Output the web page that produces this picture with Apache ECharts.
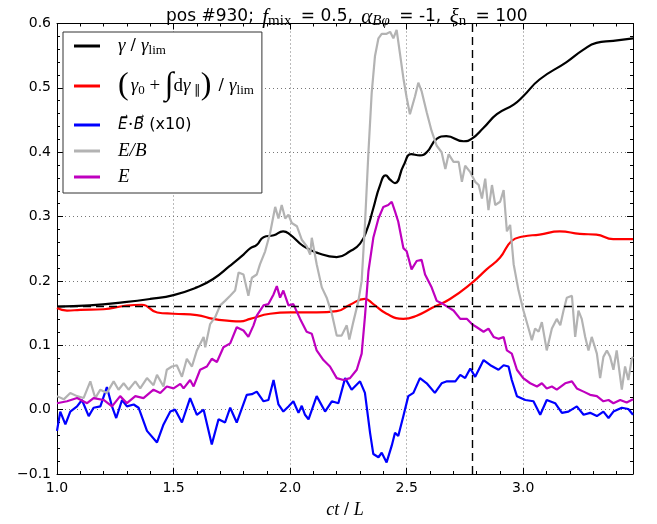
<!DOCTYPE html>
<html><head><meta charset="utf-8">
<script src="https://cdn.jsdelivr.net/npm/echarts@6.0.0/dist/echarts.min.js"></script>
<style>html,body{margin:0;padding:0;background:#fff}#c{width:657px;height:524px}</style>
</head><body><div id="c"></div>
<script>
// ---- data ----
const xMin = 1.0, xMax = 3.471, yMin = -0.1, yMax = 0.6;
const hLineY = 0.159;   // horizontal dashed reference line
const vLineX = 2.78;    // vertical dashed reference line

const gammaPts = [[1.0,0.160],[1.14,0.162],[1.29,0.167],[1.40,0.172],[1.50,0.178],[1.60,0.190],[1.67,0.203],[1.74,0.223],[1.80,0.241],[1.83,0.251],[1.857,0.256],[1.886,0.268],[1.93,0.271],[1.97,0.277],[2.0,0.272],[2.057,0.254],[2.114,0.244],[2.2,0.237],[2.257,0.246],[2.3,0.258],[2.33,0.280],[2.357,0.313],[2.386,0.349],[2.41,0.364],[2.43,0.357],[2.45,0.352],[2.486,0.379],[2.52,0.397],[2.557,0.395],[2.586,0.400],[2.63,0.421],[2.67,0.425],[2.744,0.417],[2.78,0.421],[2.83,0.438],[2.887,0.459],[2.959,0.474],[3.0,0.487],[3.07,0.513],[3.186,0.540],[3.257,0.559],[3.314,0.570],[3.386,0.573],[3.471,0.577]];

const gammaParPts = [[1.0,0.158],[1.043,0.154],[1.1,0.155],[1.2,0.156],[1.286,0.161],[1.364,0.163],[1.43,0.151],[1.5,0.149],[1.6,0.147],[1.67,0.141],[1.74,0.138],[1.786,0.137],[1.829,0.141],[1.914,0.149],[2.0,0.151],[2.114,0.151],[2.2,0.153],[2.257,0.163],[2.32,0.172],[2.357,0.164],[2.414,0.149],[2.486,0.141],[2.543,0.146],[2.614,0.159],[2.686,0.172],[2.78,0.197],[2.843,0.218],[2.9,0.236],[2.95,0.262],[3.0,0.269],[3.07,0.272],[3.157,0.277],[3.243,0.273],[3.314,0.272],[3.386,0.265],[3.471,0.265]];

const ebPts = [[1.0,-0.033],[1.014,-0.003],[1.036,-0.023],[1.057,-0.003],[1.086,0.005],[1.107,0.015],[1.136,-0.01],[1.157,0.003],[1.186,0.005],[1.214,0.035],[1.236,0.005],[1.254,-0.013],[1.279,0.015],[1.3,0.005],[1.329,0.008],[1.35,0.003],[1.386,-0.033],[1.429,-0.051],[1.457,-0.023],[1.486,-0.003],[1.507,0.0],[1.536,-0.02],[1.571,0.018],[1.6,-0.008],[1.629,0.0],[1.664,-0.054],[1.693,-0.015],[1.721,-0.02],[1.743,0.003],[1.771,-0.02],[1.814,0.023],[1.836,0.024],[1.857,0.028],[1.886,0.013],[1.907,0.015],[1.929,0.046],[1.95,0.008],[1.971,-0.003],[1.993,0.005],[2.014,0.013],[2.036,-0.005],[2.05,0.006],[2.064,-0.008],[2.079,-0.015],[2.114,0.021],[2.15,-0.003],[2.179,0.013],[2.207,0.01],[2.236,0.049],[2.264,0.031],[2.3,0.044],[2.321,0.026],[2.343,-0.036],[2.357,-0.069],[2.379,-0.074],[2.393,-0.067],[2.414,-0.082],[2.436,-0.056],[2.45,-0.036],[2.464,-0.041],[2.486,-0.01],[2.507,0.021],[2.529,0.026],[2.557,0.049],[2.586,0.041],[2.621,0.026],[2.65,0.041],[2.673,0.044],[2.709,0.044],[2.73,0.054],[2.751,0.049],[2.773,0.064],[2.794,0.051],[2.83,0.077],[2.859,0.069],[2.894,0.062],[2.916,0.069],[2.937,0.067],[2.951,0.046],[2.973,0.021],[3.009,0.015],[3.044,0.013],[3.073,-0.008],[3.101,0.015],[3.137,0.01],[3.166,-0.005],[3.194,-0.003],[3.23,0.005],[3.259,-0.008],[3.287,-0.005],[3.316,-0.01],[3.344,-0.003],[3.366,-0.013],[3.387,-0.003],[3.423,0.003],[3.451,0.001],[3.471,-0.008]];

const eOverBPts = [[1.0,0.021],[1.029,0.016],[1.057,0.026],[1.086,0.021],[1.114,0.018],[1.143,0.044],[1.164,0.018],[1.186,0.031],[1.214,0.026],[1.243,0.044],[1.264,0.031],[1.286,0.041],[1.307,0.031],[1.336,0.044],[1.357,0.033],[1.386,0.049],[1.414,0.038],[1.429,0.054],[1.457,0.036],[1.471,0.062],[1.493,0.067],[1.514,0.069],[1.536,0.051],[1.557,0.079],[1.579,0.067],[1.6,0.092],[1.629,0.113],[1.636,0.097],[1.657,0.133],[1.679,0.144],[1.7,0.162],[1.721,0.169],[1.743,0.177],[1.764,0.185],[1.779,0.213],[1.8,0.21],[1.821,0.177],[1.836,0.205],[1.857,0.21],[1.871,0.226],[1.893,0.246],[1.914,0.274],[1.936,0.315],[1.95,0.297],[1.964,0.318],[1.979,0.297],[1.993,0.303],[2.007,0.29],[2.029,0.285],[2.05,0.264],[2.071,0.254],[2.086,0.241],[2.093,0.267],[2.114,0.226],[2.136,0.19],[2.157,0.174],[2.179,0.149],[2.2,0.115],[2.221,0.115],[2.243,0.131],[2.254,0.109],[2.271,0.136],[2.293,0.169],[2.307,0.2],[2.321,0.287],[2.336,0.4],[2.35,0.492],[2.364,0.549],[2.379,0.577],[2.393,0.584],[2.414,0.584],[2.429,0.587],[2.443,0.577],[2.457,0.59],[2.471,0.554],[2.486,0.515],[2.5,0.485],[2.514,0.459],[2.536,0.487],[2.55,0.508],[2.564,0.495],[2.586,0.462],[2.607,0.433],[2.629,0.41],[2.65,0.4],[2.666,0.374],[2.68,0.397],[2.701,0.385],[2.723,0.385],[2.737,0.354],[2.751,0.379],[2.773,0.369],[2.794,0.354],[2.809,0.349],[2.823,0.328],[2.837,0.359],[2.851,0.31],[2.866,0.349],[2.88,0.318],[2.901,0.323],[2.916,0.341],[2.93,0.277],[2.944,0.287],[2.959,0.226],[2.98,0.185],[3.001,0.154],[3.023,0.126],[3.037,0.108],[3.051,0.126],[3.066,0.121],[3.08,0.136],[3.101,0.092],[3.123,0.126],[3.144,0.141],[3.159,0.131],[3.173,0.154],[3.187,0.174],[3.209,0.177],[3.223,0.113],[3.237,0.154],[3.251,0.141],[3.266,0.113],[3.28,0.092],[3.294,0.113],[3.316,0.087],[3.33,0.049],[3.344,0.082],[3.359,0.092],[3.373,0.082],[3.387,0.062],[3.401,0.092],[3.423,0.031],[3.437,0.067],[3.451,0.046],[3.466,0.079],[3.471,0.082]];

const ePts = [[1.0,0.010],[1.043,0.013],[1.086,0.018],[1.129,0.010],[1.157,0.018],[1.2,0.015],[1.236,0.005],[1.271,0.021],[1.3,0.01],[1.336,0.021],[1.371,0.018],[1.414,0.031],[1.443,0.026],[1.471,0.036],[1.5,0.033],[1.529,0.04],[1.543,0.033],[1.571,0.046],[1.586,0.036],[1.614,0.062],[1.643,0.067],[1.664,0.079],[1.686,0.074],[1.714,0.097],[1.743,0.103],[1.771,0.128],[1.8,0.123],[1.821,0.113],[1.843,0.131],[1.857,0.146],[1.886,0.162],[1.907,0.164],[1.929,0.179],[1.943,0.192],[1.957,0.174],[1.971,0.185],[1.993,0.162],[2.014,0.164],[2.043,0.141],[2.071,0.121],[2.093,0.118],[2.114,0.092],[2.143,0.077],[2.171,0.067],[2.2,0.049],[2.229,0.046],[2.257,0.049],[2.286,0.062],[2.307,0.087],[2.321,0.144],[2.336,0.215],[2.357,0.267],[2.379,0.297],[2.4,0.315],[2.421,0.318],[2.436,0.323],[2.45,0.308],[2.464,0.292],[2.486,0.251],[2.5,0.246],[2.521,0.218],[2.543,0.231],[2.564,0.233],[2.579,0.21],[2.607,0.19],[2.629,0.169],[2.657,0.164],[2.679,0.159],[2.701,0.154],[2.73,0.141],[2.759,0.141],[2.78,0.133],[2.801,0.128],[2.83,0.121],[2.851,0.126],[2.873,0.113],[2.894,0.11],[2.916,0.113],[2.93,0.092],[2.951,0.087],[2.973,0.062],[3.0,0.049],[3.03,0.041],[3.059,0.036],[3.08,0.041],[3.101,0.033],[3.123,0.036],[3.144,0.031],[3.18,0.041],[3.209,0.044],[3.23,0.033],[3.259,0.028],[3.287,0.023],[3.316,0.021],[3.344,0.013],[3.366,0.015],[3.387,0.01],[3.416,0.015],[3.444,0.011],[3.471,0.016]];

const seriesNames = ['gamma', 'gammaPar', 'EB', 'EoverB', 'E'];
const seriesColors = ['#000000', '#ff0000', '#0000ff', '#b3b3b3', '#bf00bf'];
const seriesData = [gammaPts, gammaParPts, ebPts, eOverBPts, ePts];
const legendLabels = {
  gamma: '{gap|}{mi|γ}{sans| / }{mi|γ}{sub|lim}',
  gammaPar: '{gap|}{big|(}{mi|γ}{sub|0}{rm| + }{int|∫}{rm|d}{mi|γ}{sub| ∥}{big|)}{sans| / }{mi|γ}{sub|lim}',
  EB: '{gap|}{vec|E\u20D7}{rm|·}{vec|B\u20D7}{sans| (x10)}',
  EoverB: '{gap|}{mi|E/B}',
  E: '{gap|}{mi|E}'
};

// ---- chart ----
const serif = 'Liberation Serif';
const sansF = 'DejaVu Sans';
const chart = echarts.init(document.getElementById('c'), null, {renderer: 'canvas'});

function fmtY(v) {
  const r = Math.round(v * 10) / 10;
  return (r < 0 ? '\u2212' : '') + Math.abs(r).toFixed(1);
}

const gridLine = {show: true, lineStyle: {color: '#777', type: [1, 3], width: 1}};

function xAx(pos, interval, tickLen, kind) {
  return {
    type: 'value', position: pos, min: xMin, max: xMax, interval: interval,
    axisLine: {show: kind !== 'minor', onZero: false, lineStyle: {color: '#000', width: 1}},
    axisTick: {show: true, inside: true, length: tickLen, lineStyle: {color: '#000'}},
    axisLabel: kind === 'main' ? {show: true, color: '#000', fontFamily: sansF, fontSize: 14, margin: 7,
      showMaxLabel: false, formatter: v => v.toFixed(1)} : {show: false},
    splitLine: kind === 'main' ? gridLine : {show: false},
    name: kind === 'main' ? '{mi|ct}{sans| / }{mi|L}' : '',
    nameLocation: 'middle', nameGap: 27,
    nameTextStyle: {rich: {
      mi: {fontFamily: serif, fontStyle: 'italic', fontSize: 18, color: '#000'},
      sans: {fontFamily: sansF, fontSize: 15, color: '#000'}
    }}
  };
}
function yAx(pos, interval, tickLen, kind) {
  return {
    type: 'value', position: pos, min: yMin, max: yMax, interval: interval,
    axisLine: {show: kind !== 'minor', onZero: false, lineStyle: {color: '#000', width: 1}},
    axisTick: {show: true, inside: true, length: tickLen, lineStyle: {color: '#000'}},
    axisLabel: kind === 'main' ? {show: true, color: '#000', fontFamily: sansF, fontSize: 14, margin: 6,
      formatter: fmtY} : {show: false},
    splitLine: kind === 'main' ? gridLine : {show: false}
  };
}

const series = seriesNames.map((n, i) => ({
  name: n, type: 'line', xAxisIndex: 0, yAxisIndex: 0,
  data: seriesData[i], showSymbol: false, symbol: 'none',
  smooth: (n === 'gamma' || n === 'gammaPar') ? 0.5 : false,
  lineStyle: {color: seriesColors[i], width: 2.2}, itemStyle: {color: seriesColors[i]},
  z: 2 + i
}));
series[0].markLine = {
  silent: true, symbol: 'none', label: {show: false}, z: 20,
  lineStyle: {color: '#000', type: [8, 5], width: 1.4},
  emphasis: {disabled: true},
  data: [{yAxis: hLineY}, {xAxis: vLineX}]
};

const legendRich = {
  gap: {width: 13, lineHeight: 20},
  mi: {fontFamily: serif, fontStyle: 'italic', fontSize: 19, lineHeight: 20, color: '#000'},
  vec: {fontFamily: 'DejaVu Sans', fontStyle: 'italic', fontSize: 15, lineHeight: 20, color: '#000'},
  rm: {fontFamily: serif, fontSize: 19, lineHeight: 20, color: '#000'},
  sans: {fontFamily: sansF, fontSize: 16, lineHeight: 20, color: '#000'},
  sub: {fontFamily: serif, fontSize: 13, lineHeight: 20, padding: [9, 0, 0, 0], color: '#000'},
  big: {fontFamily: serif, fontSize: 32, lineHeight: 46, color: '#000', padding: [0, 2, 0, 0]},
  int: {fontFamily: serif, fontStyle: 'italic', fontSize: 32, lineHeight: 46, color: '#000'}
};

const option = {
  animation: false,
  backgroundColor: '#fff',
  title: {
    text: 'pos #930; {mi|f}{sub|mix} = 0.5, {mi|α}{subi|Bφ} = -1, {mi|ξ}{sub|n} = 100',
    left: 161, top: 1,
    textStyle: {fontFamily: sansF, fontSize: 17, fontWeight: 'normal', color: '#000', lineHeight: 22,
      rich: {
        mi: {fontFamily: serif, fontStyle: 'italic', fontSize: 21, lineHeight: 22, color: '#000', padding: [0, 0, 0, 3]},
        sub: {fontFamily: serif, fontSize: 15, lineHeight: 22, padding: [9, 4, 0, 0], color: '#000'},
        subi: {fontFamily: serif, fontStyle: 'italic', fontSize: 15, lineHeight: 22, padding: [9, 4, 0, 0], color: '#000'}
      }}
  },
  legend: {
    data: seriesNames, orient: 'vertical', left: 63, top: 32,
    padding: [3, 8, 6, 11], itemGap: 6, itemWidth: 26, itemHeight: 3, icon: 'rect',
    backgroundColor: '#fff', borderColor: '#333', borderWidth: 1,
    selectedMode: false,
    formatter: name => legendLabels[name],
    textStyle: {color: '#000', lineHeight: 20, rich: legendRich}
  },
  grid: {left: 57, right: 24, top: 23.5, bottom: 46, containLabel: false},
  xAxis: [xAx('bottom', 0.5, 6, 'main'), xAx('top', 0.5, 6, 'top'), xAx('bottom', 0.1, 3, 'minor'), xAx('top', 0.1, 3, 'minor')],
  yAxis: [yAx('left', 0.1, 6, 'main'), yAx('right', 0.1, 6, 'right'), yAx('left', 0.02, 3, 'minor'), yAx('right', 0.02, 3, 'minor')],
  series: series
};
chart.setOption(option);
</script>
</body></html>
